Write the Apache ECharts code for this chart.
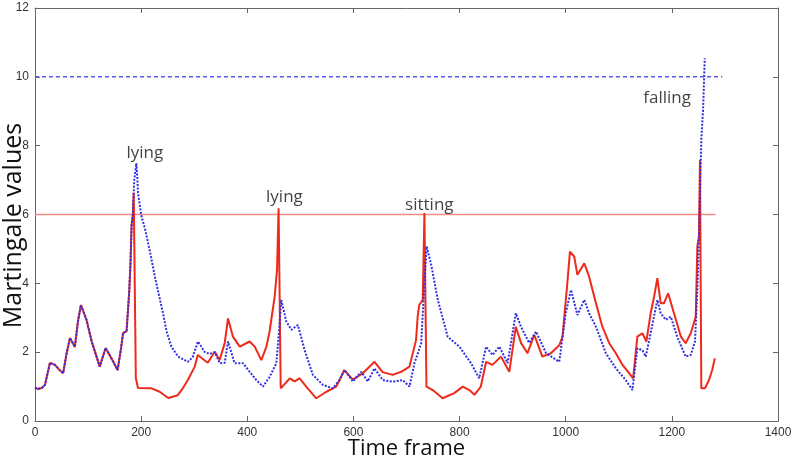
<!DOCTYPE html>
<html>
<head>
<meta charset="utf-8">
<script src="https://cdn.jsdelivr.net/npm/echarts@6/dist/echarts.min.js"></script>
<style>
html,body{margin:0;padding:0;background:#fff;}
#chart{width:794px;height:465px;}
</style>
</head>
<body>
<div id="chart"></div>
<script>
// Shared beginning (both martingales identical until first peak)
var commonFrames = [0,5.6,12.6,18.8,28.2,37.6,45,53,60,66,75,81,86.5,97,107,122,133,143,155.6,162,166,172.5,177.4,180,182,184.4,186];
var commonValues = [0.97,0.93,0.96,1.05,1.69,1.63,1.5,1.39,2.0,2.41,2.15,2.9,3.37,2.94,2.3,1.58,2.12,1.85,1.48,2.1,2.56,2.6,3.72,4.6,5.7,6.0,6.63];

// Red (solid) martingale after shared segment
var redFrames = [189,190,194,219.6,235,251,269,278.5,288,301,306.7,325.5,338.7,348,357.5,363.7,373,385.7,404.5,414,426.5,436,442,451.6,456,459,462,463,480,489,498.6,511,530,549,567.6,583,599,617.7,639.7,655,674,690,705.6,708.7,718,721,724,730.6,733.8,736.6,737.6,749.4,768,790,806,818.5,828,840,850,862,878,893.7,906,915.7,928,940.8,956,972,987.8,994,1003,1008,1016,1022,1035,1044,1057,1069,1082,1094.5,1107,1119.5,1127,1135,1144.5,1152,1160,1166.5,1172.7,1179,1185,1193,1204,1217,1226,1235.6,1245,1248,1251,1253,1254.4,1255.5,1262.5,1270,1276,1281];
var redValues = [6.6,1.25,0.96,0.95,0.85,0.67,0.75,0.95,1.19,1.58,1.92,1.69,2.01,1.77,2.27,2.98,2.45,2.16,2.31,2.16,1.77,2.16,2.6,3.61,4.39,6.18,6.18,0.95,1.24,1.15,1.24,1.0,0.66,0.85,1.0,1.48,1.2,1.39,1.72,1.42,1.34,1.43,1.58,1.63,2.35,3.03,3.37,3.52,6.04,6.04,1.0,0.9,0.66,0.81,1.0,0.9,0.76,1.0,1.72,1.63,1.87,1.43,2.74,2.27,1.97,2.5,1.87,1.97,2.2,2.45,4.0,4.92,4.78,4.25,4.58,4.2,3.42,2.74,2.26,1.97,1.63,1.39,1.24,2.45,2.55,2.31,3.13,3.61,4.15,3.42,3.42,3.71,3.13,2.45,2.26,2.55,3.03,5.07,5.36,7.59,7.59,0.95,0.95,1.19,1.48,1.82];

// Blue (dotted) martingale after shared segment
var blueFrames = [187,191,193,194,200.7,207,216,225.8,233,241,248,257,269.6,288,297,307,320,329,338.7,348,357.5,363.7,376,392,404.5,417,429.5,442,454.8,459.6,464,473.5,483,495.4,508,523.6,542.4,561,574,583,599,614.7,627,639.7,655,674,693,705.6,715,727.6,733.8,738,746,759,777.6,799.6,821.6,837,850,862,875,890.5,906,915.7,931,944,963,987.8,1000,1010,1022,1035,1044,1057,1075.6,1094.5,1113,1125.7,1135,1144.5,1150.8,1160,1172.7,1179,1188.5,1198,1210,1226,1235.6,1243.6,1248,1251,1255.5,1258.8,1262];
var blueValues = [7.0,7.49,7.0,6.63,5.94,5.6,4.97,4.2,3.7,3.14,2.6,2.16,1.87,1.72,1.85,2.31,2.0,1.95,2.0,1.68,1.69,2.31,1.68,1.68,1.43,1.19,1.0,1.28,1.68,2.55,3.52,2.89,2.65,2.79,2.06,1.34,1.05,0.95,1.19,1.48,1.15,1.43,1.15,1.53,1.19,1.14,1.19,1.0,1.68,2.25,4.0,5.07,4.58,3.52,2.45,2.16,1.68,1.24,2.16,1.92,2.16,1.68,3.13,2.74,2.27,2.6,1.97,1.72,3.13,3.81,3.08,3.52,3.13,2.74,1.97,1.53,1.19,0.9,2.11,2.06,1.87,2.55,3.52,3.13,2.94,3.03,2.45,1.87,1.92,2.31,3.81,5.26,8.17,9.04,10.54];

// Thresholds
var redThreshold = 6, redThresholdEnd = 1282;
var blueThreshold = 10, blueThresholdEnd = 1295;

// Annotations
var annoText = ['lying','lying','sitting','falling'];
var annoFrames = [207,470,743,1191];
var annoValues = [7.79,6.51,6.28,9.39];

// Axis ticks
var xMin = 0, xMax = 1400, xStep = 200;
var yMin = 0, yMax = 12, yStep = 2;

function pairs(xs, ys){ return xs.map(function(x,i){ return [x, ys[i]]; }); }
var redData = pairs(commonFrames, commonValues).concat(pairs(redFrames, redValues));
var blueData = pairs(commonFrames, commonValues).concat(pairs(blueFrames, blueValues));
var annoData = annoFrames.map(function(x,i){ return {value:[x, annoValues[i]], label:{formatter: annoText[i]}}; });

var axisLineStyle = {color:'#666', width:1};
var plainFmt = function(v){ return String(v); };
var chart = echarts.init(document.getElementById('chart'), null, {renderer:'canvas'});
chart.setOption({
  animation:false,
  backgroundColor:'#ffffff',
  grid:{left:35, right:16, top:8, bottom:44, containLabel:false, outerBoundsMode:'none'},
  xAxis:[{
    type:'value', min:xMin, max:xMax, interval:xStep, position:'bottom',
    name:'Time frame', nameLocation:'middle', nameGap:17, nameMoveOverlap:false,
    nameTextStyle:{fontFamily:'Open Sans', fontSize:22, color:'#111'},
    axisLine:{show:true, onZero:false, lineStyle:axisLineStyle},
    axisTick:{show:true, inside:true, length:5, lineStyle:axisLineStyle},
    axisLabel:{fontFamily:'Liberation Sans', fontSize:12, color:'#333', margin:6, formatter:plainFmt},
    splitLine:{show:false}
  },{
    type:'value', min:xMin, max:xMax, interval:xStep, position:'top',
    axisLine:{show:true, onZero:false, lineStyle:axisLineStyle},
    axisTick:{show:true, inside:true, length:5, lineStyle:axisLineStyle},
    axisLabel:{show:false}, splitLine:{show:false}
  }],
  yAxis:[{
    type:'value', min:yMin, max:yMax, interval:yStep, position:'left',
    name:'Martingale values', nameLocation:'middle', nameGap:9, nameMoveOverlap:false,
    nameTextStyle:{fontFamily:'Open Sans', fontSize:25, color:'#111', padding:[0,22,0,0]},
    axisLine:{show:true, onZero:false, lineStyle:axisLineStyle},
    axisTick:{show:true, inside:true, length:5, lineStyle:axisLineStyle},
    axisLabel:{fontFamily:'Liberation Sans', fontSize:12, color:'#333', margin:6, formatter:plainFmt},
    splitLine:{show:false}
  },{
    type:'value', min:yMin, max:yMax, interval:yStep, position:'right',
    axisLine:{show:true, onZero:false, lineStyle:axisLineStyle},
    axisTick:{show:true, inside:true, length:5, lineStyle:axisLineStyle},
    axisLabel:{show:false}, splitLine:{show:false}
  }],
  series:[
    {
      type:'line', name:'threshold6', xAxisIndex:1, yAxisIndex:1,
      data:[[xMin, redThreshold],[redThresholdEnd, redThreshold]],
      symbol:'none', lineStyle:{color:'#f48a85', width:1.5}, z:1
    },
    {
      type:'line', name:'threshold10', xAxisIndex:1, yAxisIndex:1,
      data:[[xMin, blueThreshold],[blueThresholdEnd, blueThreshold]],
      symbol:'none', lineStyle:{color:'#5a5af0', width:1.5, type:[4,3]}, z:1
    },
    {
      type:'line', name:'red', data:redData, symbol:'none',
      lineStyle:{color:'#ee2a1a', width:2}, z:2
    },
    {
      type:'line', name:'blue', data:blueData, symbol:'none',
      lineStyle:{color:'#3030e0', width:2, type:[2,1.5]}, z:3
    },
    {
      type:'scatter', data:annoData, symbolSize:0, z:5,
      label:{show:true, position:'inside', fontFamily:'Open Sans', fontSize:17, color:'#111'}
    }
  ]
});
</script>
</body>
</html>
